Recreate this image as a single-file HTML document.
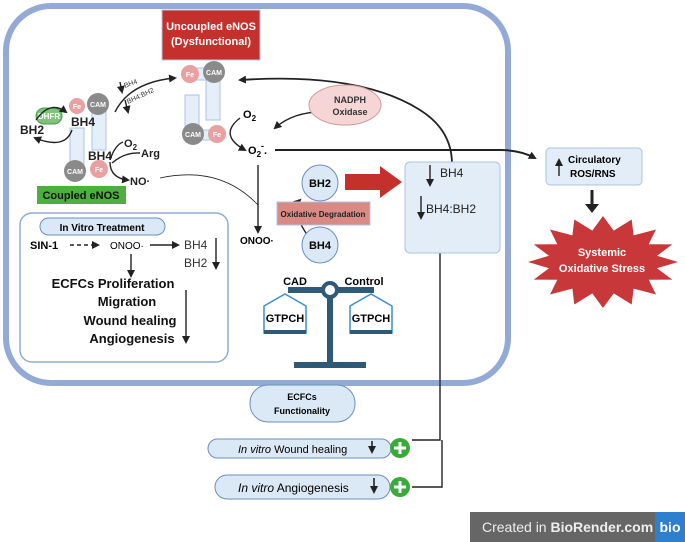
<!DOCTYPE html><html><head><style>body{margin:0;background:#fff}svg{display:block;font-family:"Liberation Sans",sans-serif}</style></head><body>
<svg width="685" height="542" viewBox="0 0 685 542">
<defs><marker id="a" markerWidth="8" markerHeight="8" refX="6" refY="4" orient="auto" markerUnits="userSpaceOnUse"><path d="M0,0L8,4L0,8z" fill="#222"/></marker></defs>
<rect x="6" y="6" width="502" height="377" rx="45" fill="none" stroke="#94aad6" stroke-width="6"/>
<rect x="162" y="10" width="98" height="50" fill="#c4302b" stroke="#b0c4e0"/>
<text x="211" y="30" fill="#fff" font-size="11" font-weight="bold" text-anchor="middle">Uncoupled eNOS</text>
<text x="211" y="45" fill="#fff" font-size="11" font-weight="bold" text-anchor="middle">(Dysfunctional)</text>
<g stroke="#a9c4e4" fill="#e6eef9"><rect x="206" y="72" width="14" height="48"/><rect x="185" y="95" width="14" height="42"/><rect x="190" y="68" width="26" height="12"/><rect x="190" y="130" width="26" height="10"/></g>
<circle cx="190" cy="74" r="9" fill="#e8a0a0"/><circle cx="214" cy="72" r="11" fill="#8a8a8a"/>
<circle cx="193" cy="134" r="11" fill="#8a8a8a"/><circle cx="217" cy="134" r="9" fill="#e8a0a0"/>
<g fill="#fff" font-size="7" font-weight="bold" text-anchor="middle"><text x="190" y="77">Fe</text><text x="214" y="75">CAM</text><text x="193" y="137">CAM</text><text x="217" y="137">Fe</text></g>
<g stroke="#a9c4e4" fill="#e6eef9"><rect x="92" y="100" width="14" height="50"/><rect x="70" y="128" width="14" height="42"/></g>
<circle cx="77" cy="106" r="8" fill="#e8a0a0"/><circle cx="98" cy="104" r="11" fill="#8a8a8a"/>
<circle cx="75" cy="171" r="11" fill="#8a8a8a"/><circle cx="99" cy="169" r="9" fill="#e8a0a0"/>
<g fill="#fff" font-size="7" font-weight="bold" text-anchor="middle"><text x="77" y="109">Fe</text><text x="98" y="107">CAM</text><text x="75" y="174">CAM</text><text x="99" y="172">Fe</text></g>
<rect x="36" y="108" width="26" height="16" rx="8" fill="#7cc47a" stroke="#4a9a4a"/>
<text x="49" y="119" fill="#fff" font-size="8" font-weight="bold" text-anchor="middle">DHFR</text>
<g font-size="12" font-weight="bold" fill="#222"><text x="20" y="134">BH2</text><text x="71" y="126">BH4</text><text x="88" y="160">BH4</text><text x="141" y="157" font-size="11">Arg</text><text x="124" y="147" font-size="11">O<tspan font-size="8" dy="3">2</tspan></text><text x="130" y="185" font-size="11">NO·</text></g>
<g fill="none" stroke="#222" stroke-width="1.4"><path d="M36,120 Q50,100 66,112" marker-end="url(#a)"/><path d="M72,130 Q65,150 35,138" marker-end="url(#a)"/>
<path d="M110,160 Q115,145 123,142"/><path d="M112,163 Q125,152 140,153"/><path d="M110,162 Q110,178 128,180" marker-end="url(#a)"/>
<path d="M115,112 Q130,82 175,78" marker-end="url(#a)"/><path d="M120,82 L122,92" marker-end="url(#a)"/><path d="M125,100 L128,112" marker-end="url(#a)"/>
<path d="M240,118 Q218,135 245,150" marker-end="url(#a)"/><path d="M330,112 Q295,110 275,128" marker-end="url(#a)"/>
<path d="M452,164 Q452,130 420,110 Q360,72 240,80" marker-end="url(#a)" stroke-width="1.8"/>
<path d="M275,150 L500,150 Q520,150 535,158" marker-end="url(#a)" stroke-width="2"/>
<path d="M258,165 L258,232" marker-end="url(#a)"/><path d="M160,178 Q220,165 258,205" stroke-width="0.8"/>
<path d="M308,236 Q290,210 300,200" marker-end="url(#a)"/>
<path d="M440,253 L440,440 L412,440"/><path d="M442,440 L442,487 L412,487"/></g>
<g font-size="7" fill="#333"><text x="125" y="88" transform="rotate(-20 125 88)">BH4</text><text x="128" y="104" transform="rotate(-25 128 104)">BH4:BH2</text></g>
<text x="243" y="118" font-size="11" font-weight="bold">O<tspan font-size="8" dy="3">2</tspan></text>
<text x="248" y="154" font-size="11" font-weight="bold">O<tspan font-size="8" dy="3">2</tspan><tspan dy="-8" font-size="9">-</tspan><tspan dy="5">.</tspan></text>
<ellipse cx="345" cy="105" rx="36" ry="20" fill="#f5d5d5" stroke="#d49a9a"/>
<text x="350" y="103" font-size="9" font-weight="bold" text-anchor="middle" fill="#333">NADPH</text><text x="350" y="115" font-size="9" font-weight="bold" text-anchor="middle" fill="#333">Oxidase</text>
<rect x="37" y="186" width="89" height="18" fill="#4caf3e"/><text x="81" y="199" font-size="11" font-weight="bold" text-anchor="middle" fill="#111">Coupled eNOS</text>
<rect x="20" y="213" width="208" height="149" rx="12" fill="#fff" stroke="#94aad6" stroke-width="1.5"/>
<rect x="40" y="218" width="125" height="17" rx="8.5" fill="#dbe8f5" stroke="#6a8fc0"/>
<text x="102" y="231" font-size="10" font-weight="bold" text-anchor="middle">In Vitro Treatment</text>
<text x="30" y="249" font-size="11" font-weight="bold">SIN-1</text>
<text x="110" y="249" font-size="10">ONOO·</text>
<text x="184" y="249" font-size="12" fill="#333">BH4</text><text x="184" y="267" font-size="12" fill="#333">BH2</text>
<g stroke="#222" stroke-width="1.4" fill="none"><path d="M70,245 L98,245" stroke-dasharray="4,3" marker-end="url(#a)"/><path d="M150,245 L178,245" marker-end="url(#a)"/><path d="M216,238 L216,268" marker-end="url(#a)"/><path d="M131,254 L131,276" marker-end="url(#a)"/><path d="M186,290 L186,342" marker-end="url(#a)"/></g>
<g font-size="13" font-weight="bold" text-anchor="middle" fill="#111"><text x="113" y="288">ECFCs Proliferation</text><text x="127" y="306">Migration</text><text x="130" y="325">Wound healing</text><text x="132" y="343">Angiogenesis</text></g>
<text x="240" y="244" font-size="10" font-weight="bold">ONOO·</text>
<rect x="277" y="202" width="93" height="23" fill="#d98a84" stroke="#b0c4e0"/><text x="323" y="217" font-size="8" font-weight="bold" text-anchor="middle" fill="#222">Oxidative Degradation</text>
<circle cx="320" cy="183" r="18" fill="#dbe8f5" stroke="#6a8fc0"/><text x="320" y="187" font-size="11" font-weight="bold" text-anchor="middle">BH2</text>
<circle cx="320" cy="245" r="18" fill="#dbe8f5" stroke="#6a8fc0"/><text x="320" y="249" font-size="11" font-weight="bold" text-anchor="middle">BH4</text>
<path d="M345,174 L380,174 L380,166 L402,182 L380,198 L380,190 L345,190z" fill="#c4302b"/>
<rect x="405" y="162" width="95" height="91" rx="5" fill="#e3edf8" stroke="#a9c4e4"/>
<text x="440" y="177" font-size="12" fill="#222">BH4</text><text x="426" y="213" font-size="12" fill="#222">BH4:BH2</text>
<g stroke="#222" stroke-width="1.4"><path d="M430,165 L430,185" marker-end="url(#a)"/><path d="M421,196 L421,218" marker-end="url(#a)"/></g>
<g fill="#2e5a78"><rect x="313" y="287" width="36" height="6"/><rect x="327" y="294" width="6" height="70"/><rect x="294" y="362" width="72" height="6"/></g>
<circle cx="330" cy="290" r="7" fill="#fff" stroke="#2e5a78" stroke-width="4"/>
<rect x="288" y="287" width="25" height="6" fill="#2e5a78"/><rect x="349" y="287" width="25" height="6" fill="#2e5a78"/>
<g fill="#fff" stroke="#3a8fd0" stroke-width="1.5"><path d="M264,306 L285,294 L306,306 L306,333 L264,333z"/><path d="M350,306 L371,294 L392,306 L392,333 L350,333z"/></g>
<g fill="#2e5a78"><rect x="264" y="330" width="42" height="4"/><rect x="350" y="330" width="42" height="4"/></g>
<g font-size="11" font-weight="bold" text-anchor="middle"><text x="295" y="285">CAD</text><text x="364" y="285">Control</text><text x="285" y="322">GTPCH</text><text x="371" y="322">GTPCH</text></g>
<rect x="546" y="148" width="96" height="37" rx="4" fill="#e3edf8" stroke="#a9c4e4"/>
<text x="568" y="163" font-size="10" font-weight="bold">Circulatory</text><text x="570" y="177" font-size="10" font-weight="bold">ROS/RNS</text>
<path d="M559,176 L559,160" stroke="#222" stroke-width="1.4" marker-end="url(#a)"/>
<path d="M592,190 L592,206" stroke="#222" stroke-width="3"/><path d="M585,204 L599,204 L592,213z" fill="#222"/>
<polygon fill="#c8383a" points="603,216 613.7,230.6 631.7,219.5 633.6,235.4 656,229.5 648.7,244.2 672.3,244.4 657,255.8 678,262 657,268.2 672.3,279.6 648.7,279.8 656,294.5 633.6,288.6 631.7,304.5 613.7,293.4 603,308 592.3,293.4 574.3,304.5 572.4,288.6 550,294.5 557.3,279.8 533.7,279.6 549,268.2 528,262 549,255.8 533.7,244.4 557.3,244.2 550,229.5 572.4,235.4 574.3,219.5 592.3,230.6"/>
<text x="602" y="256" fill="#fff" font-size="11" font-weight="bold" text-anchor="middle">Systemic</text><text x="602" y="272" fill="#fff" font-size="11" font-weight="bold" text-anchor="middle">Oxidative Stress</text>
<rect x="250" y="385" width="105" height="37" rx="18" fill="#dbe8f5" stroke="#6a8fc0"/>
<text x="302" y="400" font-size="9" font-weight="bold" text-anchor="middle">ECFCs</text><text x="302" y="414" font-size="9" font-weight="bold" text-anchor="middle">Functionality</text>
<rect x="208" y="439" width="183" height="19" rx="9.5" fill="#dbe8f5" stroke="#6a8fc0"/>
<text x="238" y="453" font-size="11"><tspan font-style="italic">In vitro</tspan> Wound healing</text>
<rect x="215" y="475" width="175" height="24" rx="12" fill="#dbe8f5" stroke="#6a8fc0"/>
<text x="238" y="492" font-size="12"><tspan font-style="italic">In vitro</tspan> Angiogenesis</text>
<g stroke="#222" stroke-width="1.6"><path d="M372,441 L372,452" marker-end="url(#a)"/><path d="M374,478 L374,492" marker-end="url(#a)"/></g>
<g><circle cx="400" cy="448" r="10" fill="#3aab3a"/><circle cx="400" cy="487" r="10" fill="#3aab3a"/><path d="M400,442v12M394,448h12M400,481v12M394,487h12" stroke="#fff" stroke-width="3"/></g>
<rect x="470" y="512" width="215" height="30" fill="#666"/><rect x="655" y="512" width="30" height="30" fill="#2f7fcf"/>
<text x="482" y="532" font-size="14" fill="#eee">Created in <tspan font-weight="bold">BioRender.com</tspan></text>
<text x="670" y="532" font-size="14" font-weight="bold" fill="#fff" text-anchor="middle">bio</text>
</svg></body></html>
